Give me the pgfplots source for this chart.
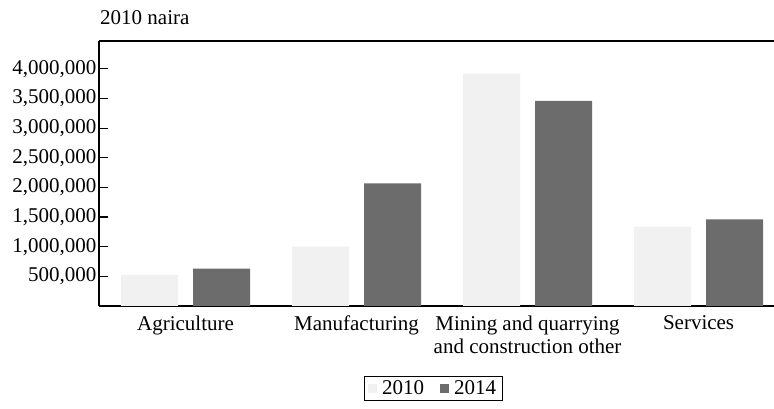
\documentclass[border=0pt]{standalone}
\usepackage{pgfplots}
\pgfplotsset{compat=1.18}
\usepackage{fontspec}
\setmainfont{Liberation Serif}
\definecolor{lightbar}{RGB}{241,241,241}
\definecolor{darkbar}{RGB}{108,108,108}
\newcommand{\lbl}{\fontsize{21}{23.5}\selectfont}
\begin{document}
\begin{tikzpicture}
\begin{axis}[
  scale only axis, width=675pt, height=265pt,
  xmin=-0.506, xmax=3.441, ymin=0, ymax=4470000,
  ybar=15pt, bar width=57pt,
  axis x line*=box, axis y line*=left,
  axis line style={line width=1.2pt, black},
  ytick={500000,1000000,1500000,2000000,2500000,3000000,3500000,4000000},
  tick align=inside, major tick length=9pt,
  major tick style={line width=1.2pt, black},
  xtick=data,
  xticklabels={Agriculture, Manufacturing, {Mining and quarrying\\and construction other}, Services},
  xtick style={draw=none},
  scaled y ticks=false,
  /pgf/number format/fixed,
  /pgf/number format/1000 sep={,},
  /pgf/number format/assume math mode=true,
  ticklabel style={font=\lbl},
  xticklabel style={align=center, yshift=-6pt},
  yticklabel style={xshift=1pt},
  legend style={at={(0.495,-0.311)}, anchor=center, draw=black, line width=0.8pt,
    legend columns=2, font=\lbl, inner xsep=4pt, inner ysep=2pt,
    /tikz/every odd column/.append style={column sep=3pt},
    /tikz/every even column/.append style={column sep=14pt}},
  legend image code/.code={\fill[#1,draw=none] (0pt,-4.5pt) rectangle (9pt,4.5pt);},
]
\addplot[fill=lightbar, draw=none] coordinates {(0,525000) (1,1000000) (2,3920000) (3,1340000)};
\addplot[fill=darkbar, draw=none] coordinates {(0,630000) (1,2070000) (2,3460000) (3,1460000)};
\legend{2010, 2014}
\coordinate (bl) at (rel axis cs:0,0);
\coordinate (tr) at (rel axis cs:1,1);
\coordinate (tl) at (rel axis cs:0,1);
\end{axis}
\node[anchor=base west, font=\lbl, inner sep=0pt] at ([shift={(1pt,16pt)}]tl) {2010 naira};
\pgfresetboundingbox
\path[use as bounding box] ([shift={(-99pt,-103pt)}]bl) rectangle ([shift={(0pt,41pt)}]tr);
\end{tikzpicture}
\end{document}
